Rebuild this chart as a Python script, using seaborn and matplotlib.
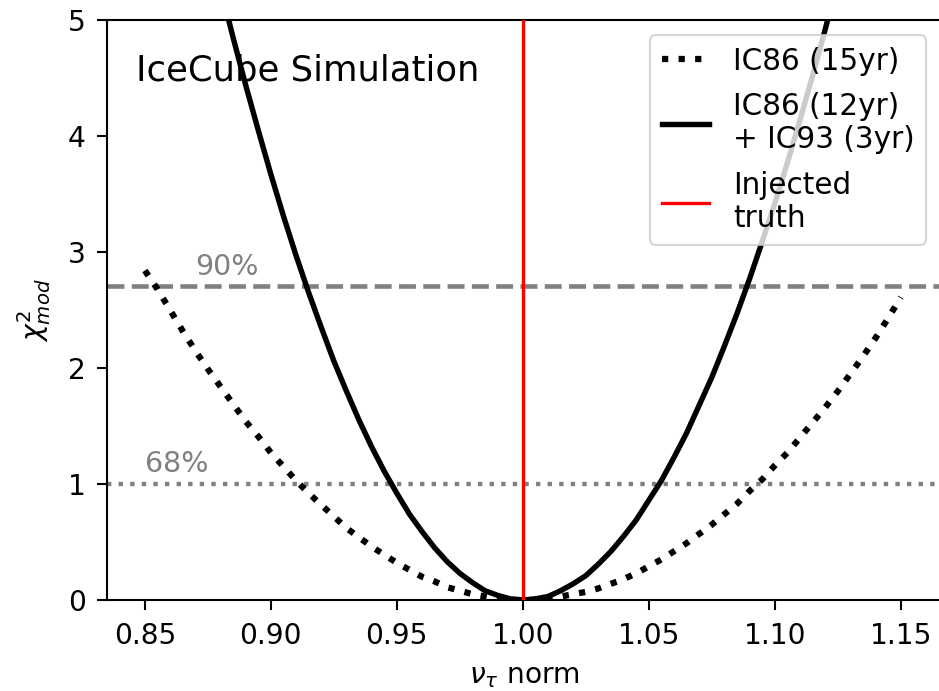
import matplotlib
matplotlib.use("Agg")
import matplotlib.pyplot as plt
import seaborn as sns
import pandas as pd

# chi2 profile of the nu_tau normalisation, IC86 only (15 years)
nu_norm_15yr = [0.850, 0.855, 0.860, 0.865, 0.870, 0.875, 0.880, 0.885, 0.890, 0.895,
                0.900, 0.905, 0.910, 0.915, 0.920, 0.925, 0.930, 0.935, 0.940, 0.945,
                0.950, 0.955, 0.960, 0.965, 0.970, 0.975, 0.980, 0.985, 0.990, 0.995,
                1.000, 1.005, 1.010, 1.015, 1.020, 1.025, 1.030, 1.035, 1.040, 1.045,
                1.050, 1.055, 1.060, 1.065, 1.070, 1.075, 1.080, 1.085, 1.090, 1.095,
                1.100, 1.105, 1.110, 1.115, 1.120, 1.125, 1.130, 1.135, 1.140, 1.145,
                1.150]
chi2_15yr = [2.84, 2.68, 2.50, 2.32, 2.15, 1.99, 1.84, 1.69, 1.54, 1.41,
             1.27, 1.15, 1.03, 0.92, 0.82, 0.72, 0.62, 0.54, 0.46, 0.39,
             0.32, 0.26, 0.20, 0.16, 0.11, 0.08, 0.05, 0.03, 0.01, 0.00,
             0.00, 0.00, 0.01, 0.03, 0.05, 0.07, 0.10, 0.14, 0.18, 0.23,
             0.29, 0.35, 0.42, 0.49, 0.57, 0.65, 0.74, 0.83, 0.94, 1.04,
             1.16, 1.27, 1.40, 1.53, 1.66, 1.80, 1.95, 2.10, 2.26, 2.43,
             2.61]

# chi2 profile, IC86 (12 years) + IC93 (3 years)
nu_norm_combined = [0.875, 0.880, 0.885, 0.890, 0.895, 0.900, 0.905, 0.910, 0.915, 0.920,
                    0.925, 0.930, 0.935, 0.940, 0.945, 0.950, 0.955, 0.960, 0.965, 0.970,
                    0.975, 0.980, 0.985, 0.990, 0.995, 1.000, 1.005, 1.010, 1.015, 1.020,
                    1.025, 1.030, 1.035, 1.040, 1.045, 1.050, 1.055, 1.060, 1.065, 1.070,
                    1.075, 1.080, 1.085, 1.090, 1.095, 1.100, 1.105, 1.110, 1.115, 1.120,
                    1.125]
chi2_combined = [5.73, 5.28, 4.85, 4.44, 4.05, 3.67, 3.31, 2.97, 2.65, 2.35,
                 2.06, 1.80, 1.55, 1.32, 1.11, 0.92, 0.74, 0.59, 0.45, 0.33,
                 0.23, 0.15, 0.08, 0.04, 0.01, 0.00, 0.01, 0.03, 0.08, 0.14,
                 0.21, 0.31, 0.42, 0.55, 0.69, 0.86, 1.03, 1.23, 1.44, 1.68,
                 1.92, 2.19, 2.47, 2.77, 3.09, 3.42, 3.77, 4.14, 4.52, 4.92,
                 5.34]

series_labels = ["IC86 (15yr)", "IC86 (12yr)\n+ IC93 (3yr)", "Injected\ntruth"]
injected_truth = 1.0
cl_levels = [1.0, 2.71]
cl_labels = ["68%", "90%"]
cl_label_pos = [(0.85, 1.10), (0.87, 2.80)]

x_ticks = [0.85, 0.90, 0.95, 1.00, 1.05, 1.10, 1.15]
y_ticks = [0, 1, 2, 3, 4, 5]

df_15 = pd.DataFrame({"nu_norm": nu_norm_15yr, "chi2": chi2_15yr})
df_comb = pd.DataFrame({"nu_norm": nu_norm_combined, "chi2": chi2_combined})

plt.rcParams["font.family"] = ["DejaVu Sans"]
plt.rcParams["mathtext.fontset"] = "dejavusans"

fig = plt.figure(figsize=(939 / 150, 691 / 150), dpi=150)
ax = fig.add_axes([0.1140, 0.1317, 0.8883, 0.8394])

# confidence-level reference lines
ax.axhline(cl_levels[1], color="gray", lw=2.2, ls="--", zorder=1)
ax.axhline(cl_levels[0], color="gray", lw=2.1, ls=":", zorder=1)
for txt, (tx, ty) in zip(cl_labels, cl_label_pos):
    ax.text(tx, ty, txt, color="gray", fontsize=13.7, ha="left", va="baseline")

sns.lineplot(data=df_15, x="nu_norm", y="chi2", ax=ax, color="black",
             lw=3.0, linestyle=":", label=series_labels[0], zorder=2)
sns.lineplot(data=df_comb, x="nu_norm", y="chi2", ax=ax, color="black",
             lw=2.6, label=series_labels[1], zorder=2)
ax.axvline(injected_truth, color="red", lw=1.6, label=series_labels[2], zorder=3)

ax.text(0.035, 0.895, "IceCube Simulation", transform=ax.transAxes,
        fontsize=17, ha="left", va="baseline")

ax.set_xlim(0.835, 1.166)
ax.set_ylim(0, 5)
ax.set_xticks(x_ticks)
ax.set_yticks(y_ticks)
ax.set_xticklabels([f"{t:.2f}" for t in x_ticks])
ax.set_yticklabels([str(t) for t in y_ticks])
ax.tick_params(axis="both", labelsize=13.5, length=4.8, width=1.0)
ax.tick_params(axis="x", pad=6)
ax.tick_params(axis="y", pad=5.5)
for sp in ax.spines.values():
    sp.set_linewidth(1.0)

ax.set_xlabel(r"$\nu_\tau$ norm", fontsize=13.5, labelpad=5.5)
ax.set_ylabel(r"$\chi^2_{mod}$", fontsize=13.5, labelpad=7)

ax.legend(loc="upper right", fontsize=14.2, handlelength=1.6, labelspacing=0.55)

fig.savefig("out.png", dpi=150)
